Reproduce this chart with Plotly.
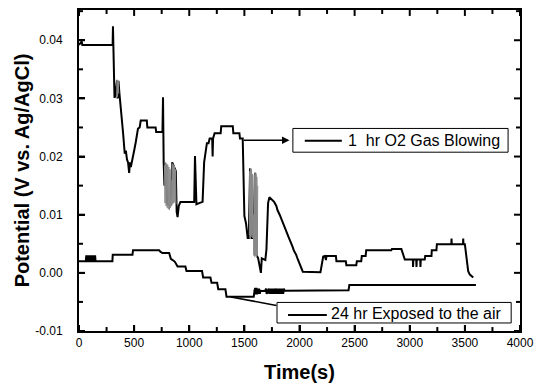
import plotly.graph_objects as go

# ---- Data: 1 hr O2 gas blowing ----
o2_t = [0, 25, 30, 40, 305, 308, 315, 322, 330, 345, 352, 358, 366, 380, 400, 415, 425, 435,
        445, 455, 462, 470, 480, 500, 515, 535, 550, 560, 615, 620, 695, 700, 757, 762,
        768, 775, 790, 800, 830, 845, 878, 886, 894, 905, 920, 1000, 1045, 1052, 1056,
        1065, 1090, 1121, 1135, 1152, 1160, 1175, 1185, 1208, 1212, 1216, 1230, 1285,
        1290, 1395, 1400, 1455, 1460, 1485, 1492, 1500, 1515, 1530, 1540, 1552, 1565,
        1580, 1598, 1612, 1625, 1640, 1650, 1658, 1690, 1700, 1715, 1727, 1740, 1770,
        1790, 1800, 1820, 1835, 1850, 1870, 1885, 1900, 1920, 1935, 1950, 1970, 1985,
        2000, 2015, 2030, 2190, 2200, 2215, 2230, 2240, 2245, 2330, 2335, 2420, 2425,
        2515, 2520, 2560, 2565, 2600, 2605, 2652, 2657, 2833, 2838, 2924, 2955, 3028,
        3030, 3033, 3059, 3061, 3064, 3095, 3097, 3100, 3136, 3140, 3197, 3200, 3242,
        3246, 3377, 3379, 3381, 3483, 3485, 3487, 3500, 3515, 3530, 3545, 3576]
o2_v = [0.0392, 0.0398, 0.0392, 0.0392, 0.0392, 0.0424, 0.0330, 0.0301, 0.0305, 0.0331,
        0.0300, 0.0330, 0.0310, 0.0285, 0.0240, 0.0205, 0.0210, 0.0195, 0.0190, 0.0172,
        0.0190, 0.0182, 0.0190, 0.0210, 0.0225, 0.0248, 0.0250, 0.0262, 0.0262, 0.0250,
        0.0250, 0.0242, 0.0242, 0.0302, 0.0190, 0.0150, 0.0185, 0.0120, 0.0115, 0.0190,
        0.0175, 0.0105, 0.0096, 0.0115, 0.0122, 0.0122, 0.0122, 0.0201, 0.0150, 0.0118,
        0.0120, 0.0122, 0.0190, 0.0215, 0.0223, 0.0223, 0.0231, 0.0231, 0.0200, 0.0231,
        0.0240, 0.0240, 0.0252, 0.0252, 0.0240, 0.0240, 0.0231, 0.0231, 0.0130, 0.0098,
        0.0085, 0.0060, 0.0060, 0.0180, 0.0060, 0.0060, 0.0172, 0.0030, 0.0025, 0.0010,
        0.0000, 0.0025, 0.0022, 0.0040, 0.0120, 0.0130, 0.0128, 0.0122, 0.0115, 0.0108,
        0.0100, 0.0092, 0.0085, 0.0077, 0.0069, 0.0062, 0.0054, 0.0046, 0.0038, 0.0031,
        0.0023, 0.0015, 0.0008, 0.0002, 0.0001, 0.0015, 0.0028, 0.0029, 0.0022, 0.0029,
        0.0029, 0.0020, 0.0020, 0.0013, 0.0013, 0.0020, 0.0020, 0.0029, 0.0029, 0.0039,
        0.0039, 0.0039, 0.0039, 0.0041, 0.0041, 0.0023, 0.0023, 0.0010, 0.0023, 0.0023,
        0.0010, 0.0023, 0.0023, 0.0010, 0.0023, 0.0023, 0.0029, 0.0029, 0.0039, 0.0039,
        0.0049, 0.0049, 0.0059, 0.0049, 0.0049, 0.0059, 0.0049, 0.0049, 0.0020, 0.0003,
        -0.0003, -0.0008]

# fast-noise bands of the O2 curve (printed grey)
noise_a_t = [336, 339, 342, 345, 348, 351, 354, 357, 360]
noise_a_v = [0.0302, 0.0330, 0.0300, 0.0332, 0.0303, 0.0331, 0.0305, 0.0330, 0.0308]
noise_b_t = [775, 780, 785, 790, 795, 800, 805, 810, 815, 820, 825, 830, 835, 840, 845,
             850, 855, 860, 865, 870, 875, 880]
noise_b_v = [0.0185, 0.0120, 0.0190, 0.0115, 0.0188, 0.0112, 0.0186, 0.0110, 0.0182,
             0.0108, 0.0178, 0.0112, 0.0160, 0.0115, 0.0188, 0.0118, 0.0186, 0.0120,
             0.0184, 0.0122, 0.0178, 0.0118]
noise_c_t = [1545, 1549, 1553, 1557, 1561, 1565, 1569, 1573, 1577, 1581, 1585, 1589,
             1593, 1597, 1601, 1605, 1609, 1613, 1617, 1621]
noise_c_v = [0.0065, 0.0175, 0.0060, 0.0180, 0.0062, 0.0178, 0.0065, 0.0170, 0.0060,
             0.0100, 0.0030, 0.0168, 0.0028, 0.0172, 0.0030, 0.0170, 0.0026, 0.0165,
             0.0030, 0.0150]

# ---- Data: 24 hr exposed to the air ----
air_t = [0, 303, 306, 485, 490, 727, 740, 758, 818, 826, 833, 850, 870, 894, 965, 975,
         1116, 1126, 1192, 1202, 1253, 1263, 1328, 1338, 1585, 1592, 2445, 2452, 3600]
air_v = [0.0020, 0.0020, 0.0031, 0.0031, 0.0039, 0.0039, 0.0036, 0.0034, 0.0034, 0.0028,
         0.0024, 0.0022, 0.0019, 0.0011, 0.0011, 0.0003, 0.0003, -0.0008, -0.0008,
         -0.0017, -0.0017, -0.0028, -0.0028, -0.0041, -0.0041, -0.0031, -0.0030,
         -0.0021, -0.0021]
air_blob1_t = [62, 66, 70, 74, 78, 82, 86, 90, 94, 98, 102, 106, 110, 114, 118, 122, 126,
               130, 134, 138, 142, 146, 150]
air_blob1_v = [0.0020, 0.0030, 0.0020, 0.0030, 0.0020, 0.0030, 0.0020, 0.0030, 0.0020,
               0.0030, 0.0020, 0.0030, 0.0020, 0.0030, 0.0020, 0.0030, 0.0020, 0.0030,
               0.0020, 0.0030, 0.0020, 0.0030, 0.0020]
air_blob2_t = [1592, 1598, 1604, 1610, 1616, 1622, 1628, 1634, 1640, 1646, 1690, 1696,
               1702, 1708, 1714, 1720, 1726, 1732, 1738, 1744, 1750, 1756, 1762, 1768,
               1774, 1780, 1786, 1792, 1798, 1804, 1810, 1816, 1822, 1828, 1834, 1840,
               1846, 1852, 1858, 1864]
air_blob2_v = [-0.0031, -0.0026, -0.0037, -0.0026, -0.0037, -0.0027, -0.0036, -0.0027,
               -0.0036, -0.0031, -0.0031, -0.0027, -0.0036, -0.0031, -0.0031, -0.0027,
               -0.0036, -0.0027, -0.0036, -0.0027, -0.0036, -0.0027, -0.0036, -0.0027,
               -0.0036, -0.0031, -0.0027, -0.0036, -0.0027, -0.0036, -0.0027, -0.0036,
               -0.0027, -0.0036, -0.0027, -0.0036, -0.0027, -0.0036, -0.0027, -0.0031]

x_ticks = [0, 500, 1000, 1500, 2000, 2500, 3000, 3500, 4000]
y_ticks = [-0.01, 0.00, 0.01, 0.02, 0.03, 0.04]
x_range = [0, 4000]
y_range = [-0.01, 0.0452]

legend_o2 = "1\u00a0 hr O2 Gas Blowing"
legend_air = "24 hr Exposed to the air"

FONT = "Liberation Sans, Arial, sans-serif"
W, H = 543, 388
M = dict(l=79, r=23, t=8, b=55)

fig = go.Figure()
fig.add_trace(go.Scatter(x=o2_t, y=o2_v, mode="lines", name=legend_o2,
                         line=dict(color="black", width=2), showlegend=False))
for nt, nv in [(noise_a_t, noise_a_v), (noise_b_t, noise_b_v), (noise_c_t, noise_c_v)]:
    fig.add_trace(go.Scatter(x=nt, y=nv, mode="lines", showlegend=False,
                             line=dict(color="#8a8a8a", width=1)))
fig.add_trace(go.Scatter(x=air_t, y=air_v, mode="lines", name=legend_air,
                         line=dict(color="black", width=2), showlegend=False))
for bt, bv in [(air_blob1_t, air_blob1_v), (air_blob2_t, air_blob2_v)]:
    fig.add_trace(go.Scatter(x=bt, y=bv, mode="lines", showlegend=False,
                             line=dict(color="black", width=2)))

# inside tick marks on all four sides, drawn as one line trace from the tick lists
px_x = (x_range[1] - x_range[0]) / (W - M["l"] - M["r"])   # data units per pixel
px_y = (y_range[1] - y_range[0]) / (H - M["t"] - M["b"])
x_minor = [(a + b) / 2 for a, b in zip(x_ticks, x_ticks[1:])]
y_minor = [round((a + b) / 2, 4) for a, b in zip(y_ticks, y_ticks[1:])] + [0.045]
tx, ty = [], []
for vals, ln in [(x_ticks, 6), (x_minor, 4)]:
    for v in vals:
        tx += [v, v, None, v, v, None]
        ty += [y_range[0], y_range[0] + ln * px_y, None,
               y_range[1], y_range[1] - ln * px_y, None]
for vals, ln in [(y_ticks, 6), (y_minor, 4)]:
    for v in vals:
        tx += [x_range[0], x_range[0] + ln * px_x, None,
               x_range[1], x_range[1] - ln * px_x, None]
        ty += [v, v, None, v, v, None]
fig.add_trace(go.Scatter(x=tx, y=ty, mode="lines", showlegend=False, hoverinfo="skip",
                         line=dict(color="black", width=2), cliponaxis=False))

axis_common = dict(showline=True, linecolor="black", linewidth=2, mirror=True,
                   ticks="inside", ticklen=6, tickwidth=2, tickcolor="#000000",
                   showgrid=False, zeroline=False,
                   tickfont=dict(family=FONT, size=12, color="black"))

fig.update_xaxes(range=x_range, tickmode="array", tickvals=x_ticks,
                 ticktext=[str(v) for v in x_ticks],
                 title=dict(text="<b>Time(s)</b>",
                            font=dict(family=FONT, size=20, color="black"), standoff=16),
                 **axis_common)
fig.update_yaxes(range=y_range, tickmode="array", tickvals=y_ticks,
                 ticktext=[f"{v:.2f}" for v in y_ticks],
                 ticklabelstandoff=12,
                 title=dict(text="<b>Potential (V vs. Ag/AgCl)</b>",
                            font=dict(family=FONT, size=20, color="black"), standoff=0),
                 **axis_common)

fig.add_annotation(x=1909, y=0.0228, ax=1482, ay=0.0228, xref="x", yref="y",
                   axref="x", ayref="y", text="", showarrow=True, arrowhead=2,
                   arrowsize=1, arrowwidth=1.5, arrowcolor="black")
fig.add_annotation(x=1791, y=-0.0056, ax=1364, ay=-0.0041, xref="x", yref="y",
                   axref="x", ayref="y", text="", showarrow=True, arrowhead=0,
                   arrowwidth=1.5, arrowcolor="black")

# legend boxes (drawn as boxed keys, like the original figure)
fig.add_shape(type="rect", xref="paper", yref="paper", x0=0.485, x1=0.973, y0=0.557,
              y1=0.631, line=dict(color="black", width=1), fillcolor="white", layer="above")
fig.add_shape(type="line", xref="paper", yref="paper", x0=0.512, x1=0.596, y0=0.593,
              y1=0.593, line=dict(color="black", width=2), layer="above")
fig.add_annotation(xref="paper", yref="paper", x=0.606, y=0.594, xanchor="left",
                   yanchor="middle", showarrow=False, text=legend_o2,
                   font=dict(family=FONT, size=16, color="black"))
fig.add_shape(type="rect", xref="paper", yref="paper", x0=0.449, x1=0.980, y0=0.025,
              y1=0.089, line=dict(color="black", width=1), fillcolor="white", layer="above")
fig.add_shape(type="line", xref="paper", yref="paper", x0=0.474, x1=0.562, y0=0.050,
              y1=0.050, line=dict(color="black", width=2), layer="above")
fig.add_annotation(xref="paper", yref="paper", x=0.566, y=0.055, xanchor="left",
                   yanchor="middle", showarrow=False, text=legend_air,
                   font=dict(family=FONT, size=16, color="black"))

fig.update_layout(
    width=W, height=H,
    margin=M,
    paper_bgcolor="white", plot_bgcolor="white",
    showlegend=False,
)

fig.write_html("out.html", config={"displayModeBar": False},
               post_script="document.body.style.margin='0';")
